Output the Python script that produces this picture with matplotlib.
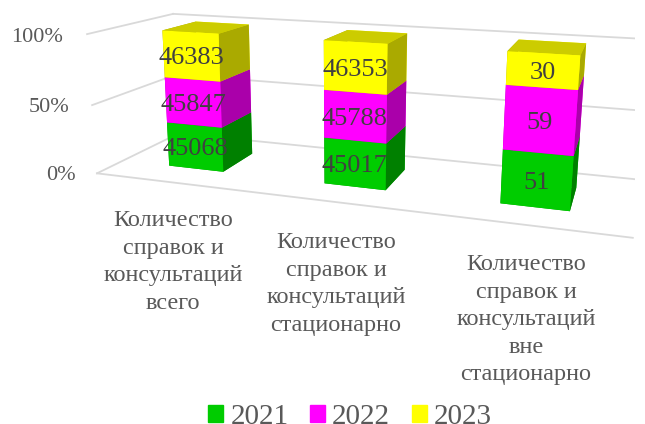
import numpy as np
import matplotlib
matplotlib.use('Agg')
import matplotlib.pyplot as plt
from matplotlib.patches import Patch
from mpl_toolkits.mplot3d import proj3d

categories = ['Количество\nсправок и\nконсультаций\nвсего', 'Количество\nсправок и\nконсультаций\nстационарно', 'Количество\nсправок и\nконсультаций\nвне\nстационарно']
years = ['2021', '2022', '2023']
values_2021 = [45068, 45017, 51]
values_2022 = [45847, 45788, 59]
values_2023 = [46383, 46353, 30]
z_ticks = [0, 0.5, 1]
z_labels = ['0%', '50%', '100%']

front = ['#00CC00', '#FF00FF', '#FFFF00']
side = ['#008000', '#AA00AA', '#AAAA00']
top = ['#00A000', '#CC00CC', '#CCCC00']
grid_color = '#D9D9D9'
text_color = '#595959'

# camera settings, bar width and depth as share of a category slot
elev, azim, roll = 13.7325, -71.9526, -0.3849
focal = np.exp(-1.2487)
box_y, box_z = 0.3103, 0.2735
cx, cy, size = 358.6345, 115.3325, 552.2750
w, d = 0.3619, 0.4214

plt.rcParams['font.family'] = 'Liberation Serif'
fig = plt.figure(figsize=(6.45, 4.24), dpi=100)
ax = fig.add_subplot(projection='3d', computed_zorder=False)
ax.set_xlim(0, 3, view_margin=0)
ax.set_ylim(0, 1, view_margin=0)
ax.set_zlim(0, 1, view_margin=0)
ax.set_xticks([])
ax.set_yticks([])
ax.set_zticks([])
ax.set_axis_off()
ax.view_init(elev=elev, azim=azim, roll=roll)
ax.set_proj_type('persp', focal_length=focal)
ax.set_box_aspect((1, box_y, box_z))
ax.set_position([(cx - size/2)/645, (424 - cy - size/2)/424, size/645, size/424])
M = ax.get_proj()

# walls and floor
for z in z_ticks:
    ax.plot([0, 0], [0, 1], [z, z], color=grid_color, lw=1.3, zorder=1)
    ax.plot([0, 3], [1, 1], [z, z], color=grid_color, lw=1.3, zorder=1)
ax.plot([0, 3], [0, 0], [0, 0], color=grid_color, lw=1.3, zorder=1)

series = [values_2021, values_2022, values_2023]
for i in range(3):
    total = sum(s[i] for s in series)
    base = 0
    for j, s in enumerate(series):
        h = s[i] / total
        cols = [top[j], top[j], front[j], front[j], side[j], side[j]]
        ax.bar3d(i + .5 - w/2, .5 - d/2, base, w, d, h, color=cols, shade=False, zorder=2 + i*3 + j)
        # label sits on the middle of the front face
        lx, ly, _ = proj3d.proj_transform(i + .5, .5 - d/2, base + h/2, M)
        ax.text2D(lx, ly, str(s[i]), transform=ax.transData, ha='center', va='center_baseline', fontsize=19, color='#404040', zorder=20)
        base += h

for t, x, y in zip(z_labels, [76, 69, 63], [175, 107, 37]):
    fig.text(x/645, 1 - y/424, t, ha='right', va='center', fontsize=16, color=text_color)
for c, x, y in zip(categories, [173, 336, 526], [210, 232, 254]):
    fig.text(x/645, 1 - y/424, c, ha='center', va='top', fontsize=17.5, color=text_color, linespacing=1.41)

fig.legend(handles=[Patch(color=c, label=l) for c, l in zip(front, years)], loc='lower center', ncol=3, frameon=False,
           fontsize=21, labelcolor=text_color, handlelength=.51, handleheight=.51, handletextpad=.24, columnspacing=.75,
           bbox_to_anchor=(.543, -.075))
fig.savefig('out.png', dpi=100)
